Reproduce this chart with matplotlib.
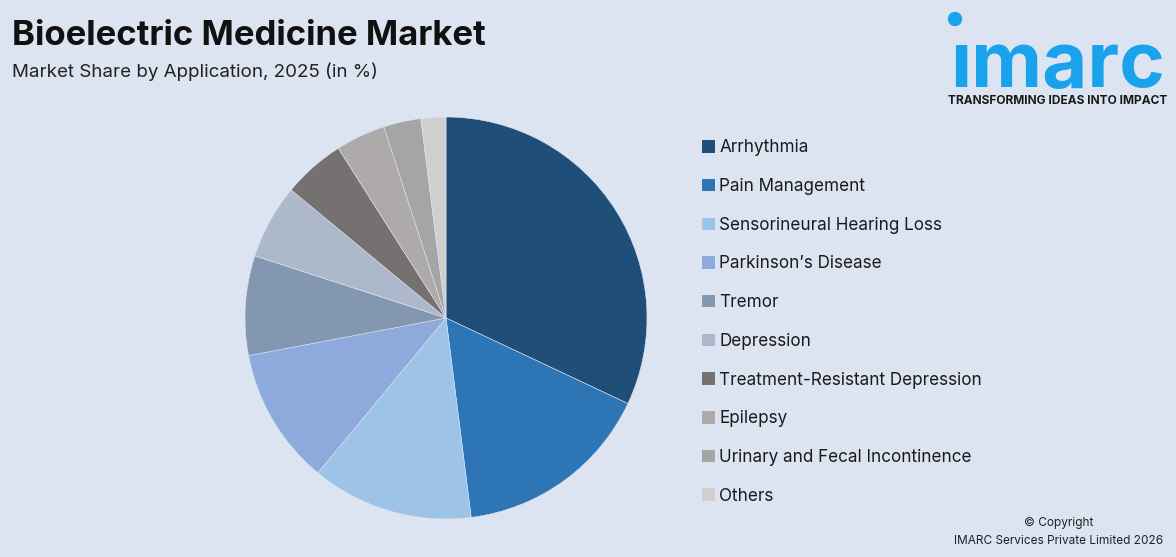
import matplotlib.pyplot as plt
from matplotlib.patches import Patch, Circle

# data
labels = ['Arrhythmia', 'Pain Management', 'Sensorineural Hearing Loss',
          "Parkinson\u2019s Disease", 'Tremor', 'Depression',
          'Treatment-Resistant Depression', 'Epilepsy',
          'Urinary and Fecal Incontinence', 'Others']
shares = [32, 16, 13, 11, 8, 6, 5, 4, 3, 2]
colors = ['#1F4E79', '#2E75B6', '#9DC3E6', '#8EA9DB', '#8497B0',
          '#ADB9CA', '#767171', '#AEAAAA', '#A5A5A5', '#D0CECE']

bg = '#DCE4F2'
W, H = 1176, 557

fig = plt.figure(figsize=(W / 100, H / 100), dpi=100, facecolor=bg)

# overlay axes in pixel coords for titles / logo
over = fig.add_axes([0, 0, 1, 1])
over.set_xlim(0, W)
over.set_ylim(H, 0)
over.axis('off')

# pie: centre ~ (446, 318), radius ~ 200 px
cx, cy, r = 446, 318, 201
ax = fig.add_axes([(cx - r) / W, (H - cy - r) / H, 2 * r / W, 2 * r / H])
ax.set_facecolor(bg)
ax.pie(shares, colors=colors, startangle=90, counterclock=False,
       wedgeprops=dict(linewidth=0.4, edgecolor=bg))
ax.set_xlim(-1, 1)
ax.set_ylim(-1, 1)
ax.set_aspect('equal')
ax.axis('off')

# legend
handles = [Patch(facecolor=c, edgecolor='none') for c in colors]
fig.legend(handles, labels, loc='upper left',
           bbox_to_anchor=(687 / W, 1 - 124 / H), frameon=False,
           prop=dict(family='Inter', size=12.3), handlelength=0.75,
           handleheight=0.75, handletextpad=0.25, labelspacing=1.27,
           labelcolor='#1a1a1a')

# titles
over.text(12, 36, 'Bioelectric Medicine Market', fontsize=25,
          fontweight='bold', family='Inter', color='#111111', va='center')
over.text(12, 72, 'Market Share by Application, 2025 (in %)',
          fontsize=13.5, family='Inter', color='#222222', va='center')

# logo
blue = '#1AA3EC'
over.text(1058, 87, '\u0131marc', fontsize=56, fontweight='bold',
          family='Inter', color=blue, ha='center', va='baseline')
over.add_patch(Circle((955, 19), 6.5, color=blue))
over.text(1058, 101, 'TRANSFORMING IDEAS INTO IMPACT', fontsize=8.6,
          fontweight='bold', family='Inter', color='#1a1a1a', ha='center',
          va='center')

# copyright
over.text(1059, 523, '\u00a9 Copyright', fontsize=8.5, family='Inter',
          color='#222222', ha='center', va='center')
over.text(1059, 541, 'IMARC Services Private Limited 2026',
          fontsize=8.5, family='Inter', color='#222222', ha='center',
          va='center')

fig.savefig('out.png', dpi=100, facecolor=bg)
